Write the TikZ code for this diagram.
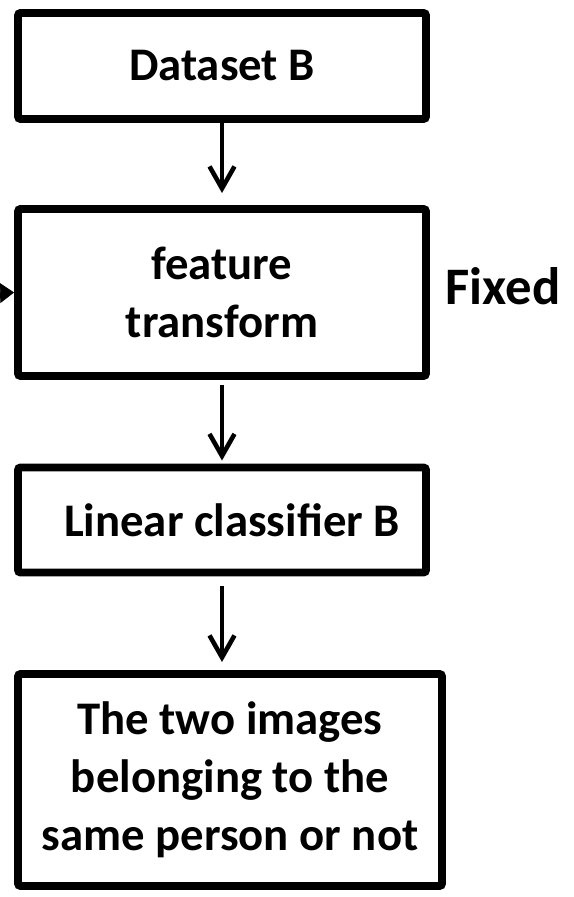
\documentclass[tikz,border=0pt]{standalone}
\usepackage{fontspec}
\setmainfont{Carlito}
\usetikzlibrary{positioning,arrows.meta}

\begin{document}
\begin{tikzpicture}[
  stage/.style={rectangle, draw, line width=4.5pt, rounded corners=1.5pt, fill=white, align=center, inner sep=0pt, font=\fontsize{26.6}{33}\selectfont\bfseries},
  flow/.style={draw, line width=2.6pt, -{Straight Barb[length=0.44cm, width=0.5cm]}},
  note/.style={font=\fontsize{30}{36}\selectfont\bfseries}
]
\useasboundingbox (0,0) rectangle (11.48,17.94);

% Boxes (top to bottom)
\node[stage, minimum width=8.16cm, minimum height=2.12cm] (dataB) at (4.44,16.62) {Dataset B};
\node[stage, minimum width=8.16cm, minimum height=3.34cm] (feat) at (4.44,12.09) {feature\\transform};
\node[stage, minimum width=8.16cm, minimum height=2.10cm] (linB) at (4.44,7.54) {\hspace*{0.4cm}Linear classifier B};
\node[stage, minimum width=8.48cm, minimum height=4.24cm] (same) at (4.60,2.34) {The two images\\belonging to the\\same person or not};

% Label beside the feature box
\node[note, anchor=base] (fixed) at (10.06,11.84) {Fixed};

% Cut-off input arrow at the left edge
\coordinate (in) at (0,12.08);
\draw[-{Triangle[length=0.28cm,width=0.4cm]}, line width=0.4pt] (in) -- (feat.west);

% Flow arrows
\draw[flow, shorten >=0.24cm] (dataB.south) -- (feat.north);
\draw[flow, shorten <=0.1cm, shorten >=0.06cm] (feat.south) -- (linB.north);
\draw[flow, shorten <=0.2cm, shorten >=0.16cm] (linB.south) -- (linB.south |- same.north);

\end{tikzpicture}
\end{document}
